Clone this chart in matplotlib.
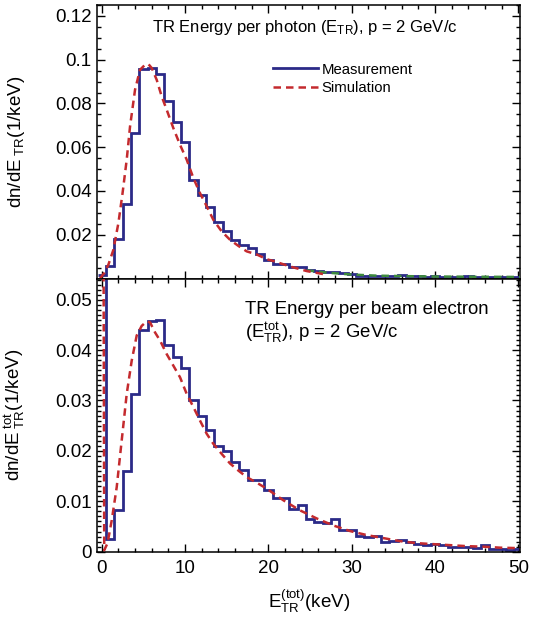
import numpy as np
import matplotlib
matplotlib.use("Agg")
import matplotlib.pyplot as plt
from matplotlib.ticker import MultipleLocator, FuncFormatter
from matplotlib.lines import Line2D

plt.rcParams['font.family'] = ['Liberation Sans', 'DejaVu Sans']
plt.rcParams['mathtext.fontset'] = 'custom'
plt.rcParams['mathtext.rm'] = 'Liberation Sans'
plt.rcParams['mathtext.it'] = 'Liberation Sans:italic'

# ---------------- data ----------------
bin_edges = np.arange(-0.5, 51.5, 1.0)   # 1 keV bins centred on integers

meas_photon = [0.0017, 0.0055, 0.0180, 0.0340, 0.0665, 0.0959, 0.0962, 0.0936, 0.0809, 0.0713,
               0.0623, 0.0451, 0.0383, 0.0325, 0.0256, 0.0218, 0.0177, 0.0155, 0.0138, 0.0112,
               0.0083, 0.0066, 0.0066, 0.0052, 0.0051, 0.0038, 0.0035, 0.0030, 0.0029, 0.0024,
               0.0022, 0.0011, 0.0010, 0.0011, 0.0010, 0.0012, 0.0015, 0.0011, 0.0010, 0.0009,
               0.0010, 0.0008, 0.0009, 0.0008, 0.0010, 0.0007, 0.0008, 0.0007, 0.0009, 0.0007,
               0.0008]

sim_photon_x = [-0.2, 0.3, 0.8, 1.4, 2.0, 2.5, 3.0, 3.4, 4.0, 4.6, 5.2, 5.6, 6.0, 6.6, 7.2, 7.8,
                8.6, 9.4, 10.2, 11.0, 11.8, 12.6, 13.4, 14.4, 15.4, 16.4, 17.4, 18.6, 19.8, 20.6,
                22.6, 24.6, 26.6]
sim_photon_y = [0.0, 0.0025, 0.0063, 0.0131, 0.0253, 0.0390, 0.0543, 0.0695, 0.0863, 0.0954,
                0.0977, 0.0980, 0.0962, 0.0908, 0.0832, 0.0771, 0.0687, 0.0611, 0.0543, 0.0459,
                0.0390, 0.0330, 0.0268, 0.0215, 0.0177, 0.0149, 0.0124, 0.0110, 0.0088, 0.0080,
                0.0055, 0.0034, 0.0020]

sim2_photon_x = [24.6, 27.0, 30.0, 33.0, 36.0, 40.0, 45.0, 50.2]
sim2_photon_y = [0.0037, 0.0027, 0.0018, 0.0013, 0.0011, 0.0009, 0.0008, 0.0007]

meas_electron = [0.3000, 0.0026, 0.0082, 0.0161, 0.0312, 0.0440, 0.0457, 0.0460, 0.0410, 0.0386,
                 0.0364, 0.0301, 0.0270, 0.0242, 0.0209, 0.0199, 0.0177, 0.0163, 0.0142, 0.0143,
                 0.0123, 0.0107, 0.0107, 0.0084, 0.0093, 0.0064, 0.0058, 0.0057, 0.0064, 0.0044,
                 0.0044, 0.0031, 0.0030, 0.0032, 0.0019, 0.0022, 0.0023, 0.0019, 0.0016, 0.0014,
                 0.0015, 0.0014, 0.0010, 0.0010, 0.0010, 0.0007, 0.0013, 0.0006, 0.0005, 0.0004,
                 0.0006]

sim_electron_x = [-0.1, 0.3, 0.7, 1.2, 1.8, 2.4, 3.0, 3.6, 4.2, 4.8, 5.4, 5.8, 6.4, 7.0, 7.8, 8.6,
                  9.4, 10.2, 11.0, 11.8, 12.6, 13.4, 14.4, 15.4, 16.4, 17.4, 18.6, 19.8, 21.8,
                  23.8, 25.8, 27.8, 29.8, 31.8, 33.8, 35.8, 37.8, 39.8, 41.8, 43.8, 45.8, 47.8, 50.2]
sim_electron_y = [0.3000, 0.0003, 0.0017, 0.0062, 0.0128, 0.0221, 0.0313, 0.0379, 0.0429, 0.0448,
                  0.0457, 0.0455, 0.0435, 0.0419, 0.0392, 0.0369, 0.0346, 0.0313, 0.0287, 0.0260,
                  0.0234, 0.0214, 0.0194, 0.0175, 0.0161, 0.0148, 0.0137, 0.0125, 0.0102, 0.0082,
                  0.0066, 0.0052, 0.0041, 0.0033, 0.0027, 0.0021, 0.0017, 0.0015, 0.0013, 0.0011,
                  0.0010, 0.0008, 0.0007]

xlim = (-0.53, 50.2)
ylim_top = (0.0, 0.125)
ylim_bot = (0.0, 0.0542)

BLUE = '#2b2a88'
RED = '#c42a2e'
GREEN = '#3d8a3d'

# ---------------- figure ----------------
fig = plt.figure(figsize=(5.36, 6.17), dpi=100)
L, W = 97.3 / 536, (520 - 97.3) / 536
ax1 = fig.add_axes([L, 1 - 278.5 / 617, W, (278.5 - 5) / 617])
ax2 = fig.add_axes([L, 1 - 551.7 / 617, W, (551.7 - 278.5) / 617])

for ax in (ax1, ax2):
    ax.set_xlim(*xlim)
    ax.xaxis.set_major_locator(MultipleLocator(10))
    ax.xaxis.set_minor_locator(MultipleLocator(2))
    ax.tick_params(which='both', direction='in', top=True, right=True, width=1.0,
                   labelsize=13.5, colors='black')
    ax.tick_params(which='major', length=5.5)
    ax.tick_params(which='minor', length=3)
    ax.tick_params(axis='y', pad=4)
    ax.tick_params(axis='x', pad=6)
    for s in ax.spines.values():
        s.set_linewidth(1.1)

fmt = FuncFormatter(lambda v, p: '%g' % round(v, 4))

# top panel
ax1.stairs(meas_photon, bin_edges, baseline=None, color=BLUE, lw=2.0, zorder=2)
ax1.plot(sim2_photon_x, sim2_photon_y, color=GREEN, lw=1.8, ls=(0, (3, 2)), zorder=3)
ax1.plot(sim_photon_x, sim_photon_y, color=RED, lw=1.8, ls=(0, (3, 2)), zorder=4)
ax1.set_ylim(*ylim_top)
ax1.yaxis.set_major_locator(MultipleLocator(0.02))
ax1.yaxis.set_minor_locator(MultipleLocator(0.005))
ax1.yaxis.set_major_formatter(FuncFormatter(lambda v, p: '' if abs(v) < 1e-9 else '%g' % round(v, 4)))
ax1.tick_params(axis='x', labelbottom=False)
ax1.set_ylabel(r'dn/dE$_{\mathregular{\ TR}}$(1/keV)', fontsize=13.5)
ax1.yaxis.set_label_coords(-0.166, 0.5)
ax1.text(0.13, 0.918, r'TR Energy per photon (E$_{\mathregular{TR}}$), p = 2 GeV/c',
         transform=ax1.transAxes, fontsize=12, va='center', ha='left')
handles = [Line2D([], [], color=BLUE, lw=2.0),
           Line2D([], [], color=RED, lw=1.8, ls=(0, (3, 2)))]
ax1.legend(handles, ['Measurement', 'Simulation'], loc='upper left',
           bbox_to_anchor=(0.4086, 0.80), frameon=False, fontsize=10.7,
           handlelength=3.0, handletextpad=0.27, labelspacing=0.32, borderpad=0.2,
           borderaxespad=0)

# bottom panel
ax2.stairs(meas_electron, bin_edges, baseline=None, color=BLUE, lw=2.0, zorder=2)
ax2.plot(sim_electron_x, sim_electron_y, color=RED, lw=1.8, ls=(0, (3, 2)), zorder=4)
ax2.set_ylim(*ylim_bot)
ax2.yaxis.set_major_locator(MultipleLocator(0.01))
ax2.yaxis.set_minor_locator(MultipleLocator(0.001))
ax2.yaxis.set_major_formatter(fmt)
ax2.xaxis.set_major_formatter(FuncFormatter(lambda v, p: '%d' % round(v)))
ax2.set_ylabel(r'dn/dE$^{\mathregular{\ tot}}_{\mathregular{\ TR}}$(1/keV)', fontsize=13.5)
ax2.yaxis.set_label_coords(-0.166, 0.5)
ax2.set_xlabel(r'E$^{\mathregular{(tot)}}_{\mathregular{TR}}$(keV)', fontsize=13.5, va='center')
ax2.xaxis.set_label_coords(0.5, -0.180)
ax2.text(0.35, 0.885, 'TR Energy per beam electron', transform=ax2.transAxes,
         fontsize=13.4, va='center', ha='left')
ax2.text(0.35, 0.80, r'(E$^{\mathregular{tot}}_{\mathregular{TR}}$), p = 2 GeV/c',
         transform=ax2.transAxes, fontsize=13.4, va='center', ha='left')

fig.savefig('out.png', dpi=100)
